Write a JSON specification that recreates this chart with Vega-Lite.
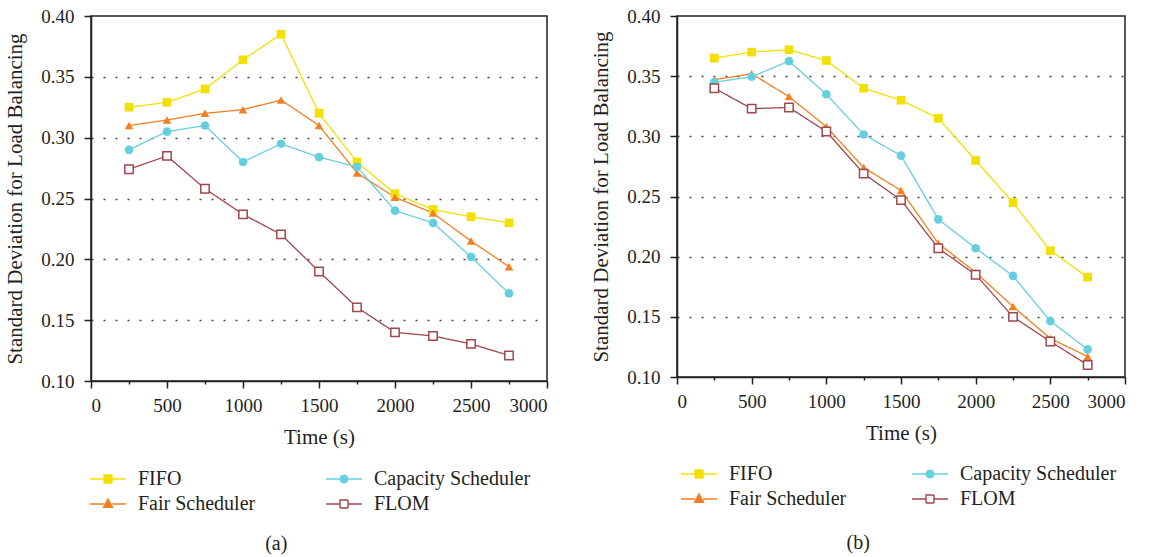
{
  "$schema": "https://vega.github.io/schema/vega-lite/v6.json",
  "background": "white",
  "padding": {"left": 4, "top": 6, "right": 5, "bottom": 5},
  "datasets": {
    "a": [
      {"s": "FIFO", "t": 250, "v": 0.325}, {"s": "FIFO", "t": 500, "v": 0.329}, {"s": "FIFO", "t": 750, "v": 0.340}, {"s": "FIFO", "t": 1000, "v": 0.364}, {"s": "FIFO", "t": 1250, "v": 0.385}, {"s": "FIFO", "t": 1500, "v": 0.320}, {"s": "FIFO", "t": 1750, "v": 0.280}, {"s": "FIFO", "t": 2000, "v": 0.254}, {"s": "FIFO", "t": 2250, "v": 0.241}, {"s": "FIFO", "t": 2500, "v": 0.235}, {"s": "FIFO", "t": 2750, "v": 0.230},
      {"s": "Fair Scheduler", "t": 250, "v": 0.310}, {"s": "Fair Scheduler", "t": 500, "v": 0.3145}, {"s": "Fair Scheduler", "t": 750, "v": 0.320}, {"s": "Fair Scheduler", "t": 1000, "v": 0.323}, {"s": "Fair Scheduler", "t": 1250, "v": 0.331}, {"s": "Fair Scheduler", "t": 1500, "v": 0.310}, {"s": "Fair Scheduler", "t": 1750, "v": 0.271}, {"s": "Fair Scheduler", "t": 2000, "v": 0.251}, {"s": "Fair Scheduler", "t": 2250, "v": 0.238}, {"s": "Fair Scheduler", "t": 2500, "v": 0.215}, {"s": "Fair Scheduler", "t": 2750, "v": 0.194},
      {"s": "Capacity Scheduler", "t": 250, "v": 0.290}, {"s": "Capacity Scheduler", "t": 500, "v": 0.305}, {"s": "Capacity Scheduler", "t": 750, "v": 0.310}, {"s": "Capacity Scheduler", "t": 1000, "v": 0.280}, {"s": "Capacity Scheduler", "t": 1250, "v": 0.295}, {"s": "Capacity Scheduler", "t": 1500, "v": 0.284}, {"s": "Capacity Scheduler", "t": 1750, "v": 0.276}, {"s": "Capacity Scheduler", "t": 2000, "v": 0.240}, {"s": "Capacity Scheduler", "t": 2250, "v": 0.230}, {"s": "Capacity Scheduler", "t": 2500, "v": 0.202}, {"s": "Capacity Scheduler", "t": 2750, "v": 0.172},
      {"s": "FLOM", "t": 250, "v": 0.274}, {"s": "FLOM", "t": 500, "v": 0.285}, {"s": "FLOM", "t": 750, "v": 0.258}, {"s": "FLOM", "t": 1000, "v": 0.237}, {"s": "FLOM", "t": 1250, "v": 0.2205}, {"s": "FLOM", "t": 1500, "v": 0.190}, {"s": "FLOM", "t": 1750, "v": 0.1605}, {"s": "FLOM", "t": 2000, "v": 0.140}, {"s": "FLOM", "t": 2250, "v": 0.137}, {"s": "FLOM", "t": 2500, "v": 0.1305}, {"s": "FLOM", "t": 2750, "v": 0.121}
    ],
    "b": [
      {"s": "FIFO", "t": 250, "v": 0.365}, {"s": "FIFO", "t": 500, "v": 0.370}, {"s": "FIFO", "t": 750, "v": 0.372}, {"s": "FIFO", "t": 1000, "v": 0.363}, {"s": "FIFO", "t": 1250, "v": 0.340}, {"s": "FIFO", "t": 1500, "v": 0.330}, {"s": "FIFO", "t": 1750, "v": 0.315}, {"s": "FIFO", "t": 2000, "v": 0.280}, {"s": "FIFO", "t": 2250, "v": 0.245}, {"s": "FIFO", "t": 2500, "v": 0.205}, {"s": "FIFO", "t": 2750, "v": 0.183},
      {"s": "Fair Scheduler", "t": 250, "v": 0.347}, {"s": "Fair Scheduler", "t": 500, "v": 0.352}, {"s": "Fair Scheduler", "t": 750, "v": 0.333}, {"s": "Fair Scheduler", "t": 1000, "v": 0.308}, {"s": "Fair Scheduler", "t": 1250, "v": 0.274}, {"s": "Fair Scheduler", "t": 1500, "v": 0.255}, {"s": "Fair Scheduler", "t": 1750, "v": 0.211}, {"s": "Fair Scheduler", "t": 2000, "v": 0.187}, {"s": "Fair Scheduler", "t": 2250, "v": 0.1585}, {"s": "Fair Scheduler", "t": 2500, "v": 0.132}, {"s": "Fair Scheduler", "t": 2750, "v": 0.117},
      {"s": "Capacity Scheduler", "t": 250, "v": 0.345}, {"s": "Capacity Scheduler", "t": 500, "v": 0.3495}, {"s": "Capacity Scheduler", "t": 750, "v": 0.3625}, {"s": "Capacity Scheduler", "t": 1000, "v": 0.335}, {"s": "Capacity Scheduler", "t": 1250, "v": 0.3015}, {"s": "Capacity Scheduler", "t": 1500, "v": 0.284}, {"s": "Capacity Scheduler", "t": 1750, "v": 0.231}, {"s": "Capacity Scheduler", "t": 2000, "v": 0.207}, {"s": "Capacity Scheduler", "t": 2250, "v": 0.184}, {"s": "Capacity Scheduler", "t": 2500, "v": 0.1465}, {"s": "Capacity Scheduler", "t": 2750, "v": 0.123},
      {"s": "FLOM", "t": 250, "v": 0.340}, {"s": "FLOM", "t": 500, "v": 0.323}, {"s": "FLOM", "t": 750, "v": 0.324}, {"s": "FLOM", "t": 1000, "v": 0.304}, {"s": "FLOM", "t": 1250, "v": 0.269}, {"s": "FLOM", "t": 1500, "v": 0.247}, {"s": "FLOM", "t": 1750, "v": 0.207}, {"s": "FLOM", "t": 2000, "v": 0.185}, {"s": "FLOM", "t": 2250, "v": 0.150}, {"s": "FLOM", "t": 2500, "v": 0.1295}, {"s": "FLOM", "t": 2750, "v": 0.110}
    ]
  },
  "bounds": "flush",
  "spacing": 130,
  "resolve": {"scale": {"color": "independent", "shape": "independent", "strokeDash": "independent"}},
  "hconcat": [
    {
      "width": 456, "height": 365,
      "data": {"name": "a"},
      "title": {"text": "(a)", "orient": "bottom", "anchor": "middle", "frame": "bounds", "offset": 20},
      "encoding": {
        "y": {"field": "v", "type": "quantitative", "scale": {"domain": [0.1, 0.4], "nice": false, "zero": false},
          "axis": {"values": [0.1, 0.15, 0.2, 0.25, 0.3, 0.35, 0.4], "format": ".2f", "title": "Standard Deviation for Load Balancing", "titlePadding": 15, "labelPadding": 10,
            "gridOpacity": {"condition": {"test": "datum.value < 0.11 || datum.value > 0.39", "value": 0}, "value": 1}}},
        "color": {"field": "s", "type": "nominal",
          "scale": {"domain": ["Capacity Scheduler", "FIFO", "FLOM", "Fair Scheduler"], "range": ["#66cfdf", "#f2e100", "#a0474d", "#f37f22"]},
          "legend": null}
      },
      "resolve": {"axis": {"x": "independent"}},
      "layer": [
        {"mark": {"type": "line", "strokeWidth": 1.3},
          "encoding": {"x": {"field": "t", "type": "quantitative", "scale": {"domain": [0, 3000], "nice": false},
            "axis": {"orient": "bottom", "values": [0, 500, 1000, 1500, 2000, 2500, 3000], "format": "d", "title": "Time (s)", "grid": false}},
            "strokeDash": {"field": "s", "type": "nominal", "scale": {"domain": ["FIFO", "Fair Scheduler", "Capacity Scheduler", "FLOM"], "range": [[1, 0], [1, 0], [1, 0], [1, 0]]},
              "legend": {"orient": "none", "legendX": 7, "legendY": 453, "columns": 2, "columnPadding": 67,
                "encode": {"symbols": {"update": {
                  "shape": {"signal": "datum.value === 'Fair Scheduler' ? 'M-3.6,0H-0.85M0.85,0H3.6M0,-1L0.9,0.65H-0.9Z' : datum.value === 'Capacity Scheduler' ? 'M-3.6,0H-0.75M0.75,0H3.6M-0.75,0A0.75,0.75 0 1,0 0.75,0A0.75,0.75 0 1,0 -0.75,0Z' : 'M-3.6,0H-0.8M0.8,0H3.6M-0.8,-0.8H0.8V0.8H-0.8Z'"},
                  "fill": {"signal": "datum.value === 'FLOM' ? 'white' : datum.value === 'FIFO' ? '#f2e100' : datum.value === 'Fair Scheduler' ? '#f37f22' : '#66cfdf'"},
                  "stroke": {"signal": "datum.value === 'FLOM' ? '#a0474d' : datum.value === 'FIFO' ? '#f2e100' : datum.value === 'Fair Scheduler' ? '#f37f22' : '#66cfdf'"},
                  "strokeWidth": {"value": 1.4}, "size": {"value": 100}, "opacity": {"value": 1}, "fillOpacity": {"value": 1}, "strokeOpacity": {"value": 1}}}}}}}},
        {"transform": [{"filter": "datum.s !== 'FLOM'"}],
          "mark": {"type": "point", "filled": true, "size": 75, "opacity": 1},
          "encoding": {"x": {"field": "t", "type": "quantitative", "axis": {"orient": "bottom", "values": [250, 750, 1250, 1750, 2250, 2750], "labels": false, "domain": false, "tickSize": 3, "title": null, "grid": false}},
            "shape": {"field": "s", "type": "nominal", "scale": {"domain": ["Capacity Scheduler", "FIFO", "FLOM", "Fair Scheduler"], "range": ["circle", "square", "square", "triangle-up"]}, "legend": null}}},
        {"transform": [{"filter": "datum.s === 'FLOM'"}],
          "mark": {"type": "point", "shape": "square", "filled": false, "fill": "white", "fillOpacity": 1, "size": 70, "strokeWidth": 1.5, "opacity": 1},
          "encoding": {"x": {"field": "t", "type": "quantitative", "axis": null}}}
      ]
    },
    {
      "width": 448, "height": 361,
      "data": {"name": "b"},
      "title": {"text": "(b)", "orient": "bottom", "anchor": "middle", "frame": "bounds", "offset": 24},
      "encoding": {
        "y": {"field": "v", "type": "quantitative", "scale": {"domain": [0.1, 0.4], "nice": false, "zero": false},
          "axis": {"values": [0.1, 0.15, 0.2, 0.25, 0.3, 0.35, 0.4], "format": ".2f", "title": "Standard Deviation for Load Balancing", "titlePadding": 15, "labelPadding": 10,
            "gridOpacity": {"condition": {"test": "datum.value < 0.11 || datum.value > 0.39", "value": 0}, "value": 1}}},
        "color": {"field": "s", "type": "nominal",
          "scale": {"domain": ["Capacity Scheduler", "FIFO", "FLOM", "Fair Scheduler"], "range": ["#66cfdf", "#f2e100", "#a0474d", "#f37f22"]},
          "legend": null}
      },
      "resolve": {"axis": {"x": "independent"}},
      "layer": [
        {"mark": {"type": "line", "strokeWidth": 1.3},
          "encoding": {"x": {"field": "t", "type": "quantitative", "scale": {"domain": [0, 3000], "nice": false},
            "axis": {"orient": "bottom", "values": [0, 500, 1000, 1500, 2000, 2500, 3000], "format": "d", "title": "Time (s)", "grid": false}},
            "strokeDash": {"field": "s", "type": "nominal", "scale": {"domain": ["FIFO", "Fair Scheduler", "Capacity Scheduler", "FLOM"], "range": [[1, 0], [1, 0], [1, 0], [1, 0]]},
              "legend": {"orient": "none", "legendX": 12, "legendY": 448, "columns": 2, "columnPadding": 62,
                "encode": {"symbols": {"update": {
                  "shape": {"signal": "datum.value === 'Fair Scheduler' ? 'M-3.6,0H-0.85M0.85,0H3.6M0,-1L0.9,0.65H-0.9Z' : datum.value === 'Capacity Scheduler' ? 'M-3.6,0H-0.75M0.75,0H3.6M-0.75,0A0.75,0.75 0 1,0 0.75,0A0.75,0.75 0 1,0 -0.75,0Z' : 'M-3.6,0H-0.8M0.8,0H3.6M-0.8,-0.8H0.8V0.8H-0.8Z'"},
                  "fill": {"signal": "datum.value === 'FLOM' ? 'white' : datum.value === 'FIFO' ? '#f2e100' : datum.value === 'Fair Scheduler' ? '#f37f22' : '#66cfdf'"},
                  "stroke": {"signal": "datum.value === 'FLOM' ? '#a0474d' : datum.value === 'FIFO' ? '#f2e100' : datum.value === 'Fair Scheduler' ? '#f37f22' : '#66cfdf'"},
                  "strokeWidth": {"value": 1.4}, "size": {"value": 100}, "opacity": {"value": 1}, "fillOpacity": {"value": 1}, "strokeOpacity": {"value": 1}}}}}}}},
        {"transform": [{"filter": "datum.s !== 'FLOM'"}],
          "mark": {"type": "point", "filled": true, "size": 75, "opacity": 1},
          "encoding": {"x": {"field": "t", "type": "quantitative", "axis": {"orient": "bottom", "values": [250, 750, 1250, 1750, 2250, 2750], "labels": false, "domain": false, "tickSize": 3, "title": null, "grid": false}},
            "shape": {"field": "s", "type": "nominal", "scale": {"domain": ["Capacity Scheduler", "FIFO", "FLOM", "Fair Scheduler"], "range": ["circle", "square", "square", "triangle-up"]}, "legend": null}}},
        {"transform": [{"filter": "datum.s === 'FLOM'"}],
          "mark": {"type": "point", "shape": "square", "filled": false, "fill": "white", "fillOpacity": 1, "size": 70, "strokeWidth": 1.5, "opacity": 1},
          "encoding": {"x": {"field": "t", "type": "quantitative", "axis": null}}}
      ]
    }
  ],
  "config": {
    "font": "Liberation Serif",
    "view": {"stroke": "#231f20", "strokeWidth": 1.5},
    "axis": {"labelFont": "Liberation Serif", "labelFontSize": 19, "labelColor": "#231f20", "titleFont": "Liberation Serif", "titleFontSize": 21, "titleFontWeight": "normal", "titleColor": "#231f20",
      "domainColor": "#231f20", "domainWidth": 1.5, "tickColor": "#231f20", "tickWidth": 1.5, "tickSize": 7, "labelPadding": 8,
      "gridColor": "#444444", "gridDash": [2, 10], "gridWidth": 1.6},
    "axisX": {"titlePadding": 11},
    "legend": {"title": null, "labelFont": "Liberation Serif", "labelFontSize": 20, "labelColor": "#231f20", "symbolSize": 100, "labelOffset": 20, "padding": 0, "rowPadding": 5, "symbolStrokeWidth": 1.4},
    "title": {"font": "Liberation Serif", "fontSize": 20, "fontWeight": "normal", "color": "#231f20"}
  }
}
